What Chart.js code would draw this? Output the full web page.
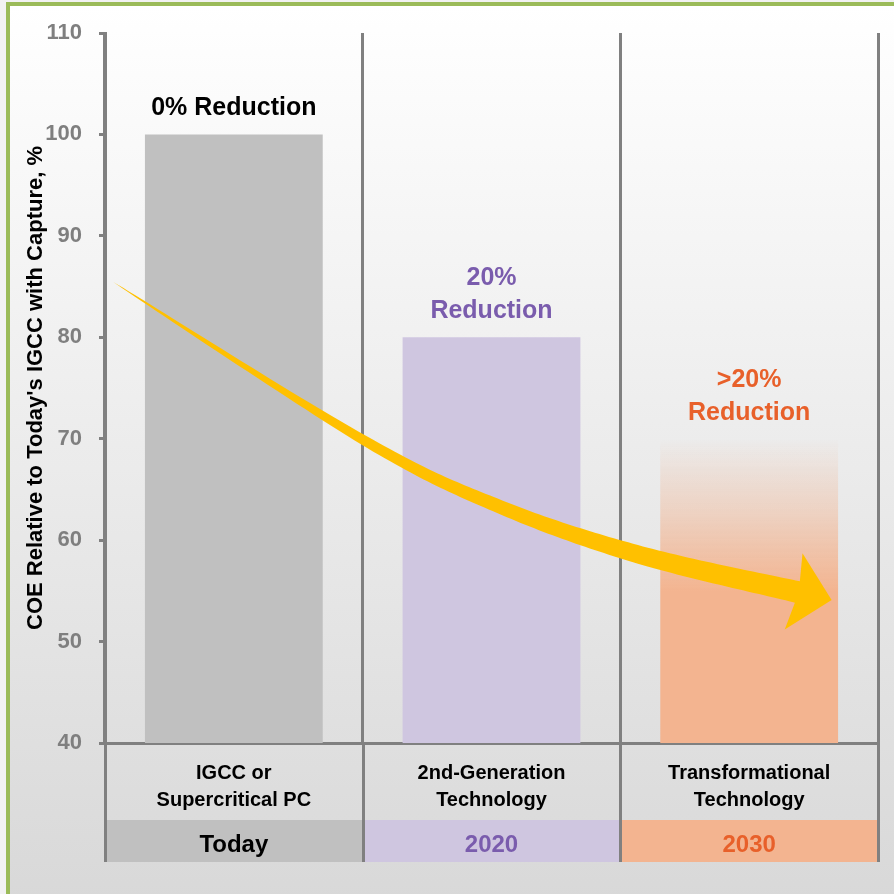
<!DOCTYPE html>
<html>
<head>
<meta charset="utf-8">
<script src="https://cdn.jsdelivr.net/npm/chart.js@4.4.1/dist/chart.umd.min.js"></script>
<style>
    html, body { margin: 0; padding: 0; background: #f2f2f2; overflow: hidden; }
    #panel {
        position: absolute; left: 6px; top: 2px; width: 900px; height: 900px;
        border-left: 4px solid #9bbb59; border-top: 4px solid #9bbb59;
        background: linear-gradient(#ffffff, #d8d8d8);
    }
    #chart { position: absolute; left: 0; top: 0; }
</style>
</head>
<body>
<div id="panel"></div>
<canvas id="chart" width="894" height="894"></canvas>
<script>
const categories = [['IGCC or', 'Supercritical PC'], ['2nd-Generation', 'Technology'], ['Transformational', 'Technology']];
const years = ['Today', '2020', '2030'];
const coeValues = [100, 80, 70];
const reductionLabels = [['0% Reduction'], ['20%', 'Reduction'], ['>20%', 'Reduction']];
const yMin = 40, yMax = 110, yStep = 10;

const barColors = ['#c0c0c0', '#cfc6e0', 'rgb(243,180,144)'];
const textColors = ['#000000', '#7a5cad', '#e8602a'];

// trend arrow centre line, in (category index, COE %) units, and its half width in px
const arrowPath = [[-0.468, 85.45], [0.503, 69.87], [1.034, 63.27], [1.578, 58.53], [2.187, 54.89]];
const arrowHalfWidth = [0, 5, 6.8, 9, 11];
const arrowHead = [[2.207, 58.7], [2.32, 54.1], [2.138, 51.2]];

const FONT = "'Liberation Sans', Arial, sans-serif";

// orange bar fades out towards the top
function barFill(c) {
    let i = c.dataIndex;
    if (i !== 2 || !c.chart.chartArea) return barColors[i];
    let y = c.chart.scales.y;
    let top = y.getPixelForValue(coeValues[i]);
    let bottom = y.getPixelForValue(yMin);
    let g = c.chart.ctx.createLinearGradient(0, top, 0, bottom);
    g.addColorStop(0, 'rgba(243,180,144,0)');
    g.addColorStop(0.25, 'rgba(243,180,144,0.45)');
    g.addColorStop(0.5, 'rgba(243,180,144,1)');
    g.addColorStop(1, 'rgba(243,180,144,1)');
    return g;
}

// coloured year row + column separators under the axis
const tableRows = {
    id: 'tableRows',
    beforeDraw(chart) {
        const {ctx, chartArea, scales: {x, x2}} = chart;
        ctx.save();
        years.forEach((_, i) => {
            let l = x.getPixelForValue(i - 0.5), r = x.getPixelForValue(i + 0.5);
            ctx.fillStyle = barColors[i];
            ctx.fillRect(l, x2.top, r - l, x2.bottom - x2.top);
        });
        ctx.strokeStyle = '#808080';
        ctx.lineWidth = 3;
        for (let i = 0; i <= years.length; i++) {
            let bx = Math.round(x.getPixelForValue(i - 0.5)) + 0.5;
            ctx.beginPath();
            ctx.moveTo(bx, chartArea.bottom);
            ctx.lineTo(bx, x2.bottom);
            ctx.stroke();
        }
        ctx.restore();
    }
};

// "% Reduction" captions above the bars
const reductionText = {
    id: 'reductionText',
    afterDatasetsDraw(chart) {
        const {ctx} = chart;
        let bars = chart.getDatasetMeta(0).data;
        ctx.save();
        ctx.font = 'bold 25px ' + FONT;
        ctx.textAlign = 'center';
        ctx.textBaseline = 'middle';
        bars.forEach((bar, i) => {
            let lines = reductionLabels[i];
            ctx.fillStyle = textColors[i];
            lines.forEach((t, k) => {
                ctx.fillText(t, bar.x, bar.y - 26 - (lines.length - 1 - k) * 33);
            });
        });
        ctx.restore();
    }
};

// catmull-rom through the centre line, widened into a tapering shaft
function smoothPath(pts, widths, steps) {
    let out = [];
    for (let i = 0; i < pts.length - 1; i++) {
        let p0 = pts[Math.max(i - 1, 0)], p1 = pts[i], p2 = pts[i + 1], p3 = pts[Math.min(i + 2, pts.length - 1)];
        for (let s = 0; s < steps; s++) {
            let t = s / steps, t2 = t * t, t3 = t2 * t;
            let f = k => 0.5 * ((2 * p1[k]) + (-p0[k] + p2[k]) * t + (2*p0[k] - 5*p1[k] + 4*p2[k] - p3[k]) * t2 + (-p0[k] + 3*p1[k] - 3*p2[k] + p3[k]) * t3);
            out.push([f(0), f(1), widths[i] + (widths[i + 1] - widths[i]) * t]);
        }
    }
    let last = pts[pts.length - 1];
    out.push([last[0], last[1], widths[widths.length - 1]]);
    return out;
}

const trendArrow = {
    id: 'trendArrow',
    afterDatasetsDraw(chart) {
        const {ctx, scales: {x, y}} = chart;
        let px = p => [x.getPixelForValue(p[0]), y.getPixelForValue(p[1])];
        let line = smoothPath(arrowPath.map(px), arrowHalfWidth, 30);
        let upper = [], lower = [];
        line.forEach((p, k) => {
            let a = line[Math.max(k - 1, 0)], b = line[Math.min(k + 1, line.length - 1)];
            let dx = b[0] - a[0], dy = b[1] - a[1];
            let len = Math.hypot(dx, dy) || 1;
            let nx = -dy / len, ny = dx / len;
            upper.push([p[0] - nx * p[2], p[1] - ny * p[2]]);
            lower.push([p[0] + nx * p[2], p[1] + ny * p[2]]);
        });
        let head = arrowHead.map(px);
        ctx.save();
        ctx.fillStyle = '#ffc000';
        ctx.beginPath();
        upper.forEach((p, k) => k ? ctx.lineTo(p[0], p[1]) : ctx.moveTo(p[0], p[1]));
        head.forEach(p => ctx.lineTo(p[0], p[1]));
        lower.reverse().forEach(p => ctx.lineTo(p[0], p[1]));
        ctx.closePath();
        ctx.fill();
        ctx.restore();
    }
};

new Chart(document.getElementById('chart'), {
    type: 'bar',
    data: {
        labels: categories,
        datasets: [{
            data: coeValues,
            backgroundColor: barFill,
            borderWidth: 0,
            barPercentage: 0.69,
            categoryPercentage: 1
        }]
    },
    options: {
        responsive: false,
        animation: false,
        devicePixelRatio: 1,
        layout: { padding: { left: 10, top: 33, right: 16, bottom: 32 } },
        plugins: {
            legend: { display: false },
            tooltip: { enabled: false }
        },
        scales: {
            x: {
                type: 'category',
                offset: true,
                weight: 0,
                grid: { offset: true, color: '#808080', lineWidth: 3, drawTicks: false },
                border: { color: '#808080', width: 3 },
                ticks: {
                    color: '#000000',
                    font: { family: FONT, size: 20, weight: 'bold', lineHeight: 1.35 },
                    padding: 17,
                    maxRotation: 0,
                    autoSkip: false
                },
                afterFit: s => { s.height = 77; }
            },
            x2: {
                type: 'category',
                position: 'bottom',
                labels: years,
                offset: true,
                weight: 1,
                grid: { display: false },
                border: { display: false },
                ticks: {
                    color: c => textColors[c.index],
                    font: { family: FONT, size: 24, weight: 'bold', lineHeight: 1.2 },
                    padding: 3,
                    maxRotation: 0
                },
                afterFit: s => { s.height = 42; }
            },
            y: {
                min: yMin,
                max: yMax,
                ticks: {
                    stepSize: yStep,
                    color: '#7f7f7f',
                    font: { family: FONT, size: 22, weight: 'bold' },
                    padding: 17
                },
                grid: { drawOnChartArea: false, color: '#808080', lineWidth: 3, tickLength: 6 },
                border: { color: '#808080', width: 3 },
                title: {
                    display: true,
                    text: "COE Relative to Today's IGCC with Capture, %",
                    color: '#000000',
                    font: { family: FONT, size: 22, weight: 'bold', lineHeight: 1.2 },
                    padding: { top: 13, bottom: 0 }
                },
                afterFit: s => { s.width = 95; }
            }
        }
    },
    plugins: [tableRows, reductionText, trendArrow]
});
</script>
</body>
</html>
